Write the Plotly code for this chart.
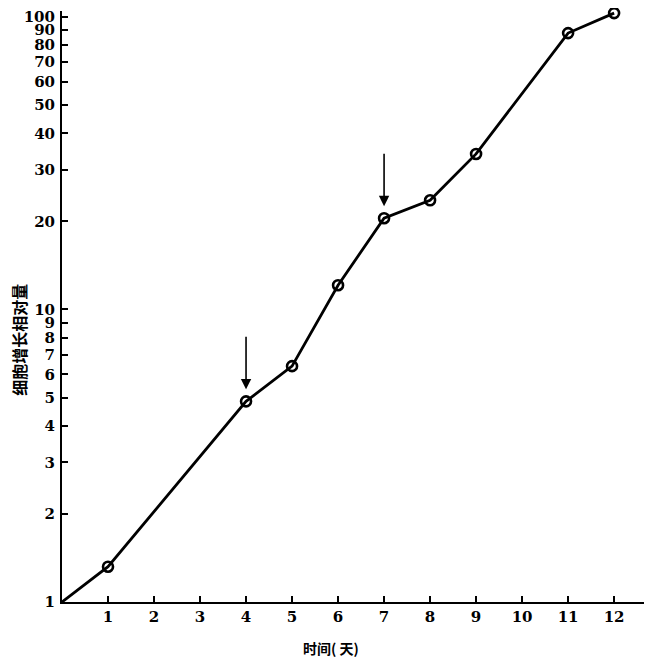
import numpy as np
import plotly.graph_objects as go

days = [0, 1, 4, 5, 6, 7, 8, 9, 11, 12]
growth = [1.0, 1.32, 4.85, 6.4, 12.1, 20.5, 23.6, 34, 88, 103]
arrow_days = [4, 7]

x_ticks = list(range(1, 13))
y_ticks = [1, 2, 3, 4, 5, 6, 7, 8, 9, 10, 20, 30, 40, 50, 60, 70, 80, 90, 100]

y_title = "细胞增长相对量"
x_title = "时间( 天)"

tick_font = dict(family="DejaVu Serif", size=15, color="black", weight="bold")

fig = go.Figure()
fig.add_trace(go.Scatter(
    x=days, y=growth, mode="lines",
    line=dict(color="black", width=2.8),
    showlegend=False, hoverinfo="skip", cliponaxis=False,
))
fig.add_trace(go.Scatter(
    x=days[1:], y=growth[1:], mode="markers",
    marker=dict(symbol="circle-open", size=10, color="black", line=dict(width=2.6)),
    showlegend=False, cliponaxis=False,
))

for d in arrow_days:
    v = growth[days.index(d)]
    fig.add_annotation(
        x=d, y=np.log10(v), xref="x", yref="y",
        ax=0, ay=-66, axref="pixel", ayref="pixel",
        showarrow=True, arrowhead=2, arrowsize=1.3, arrowwidth=1.6,
        arrowcolor="black", standoff=12, text="",
    )

fig.add_annotation(
    text=y_title, textangle=-90, xref="paper", yref="paper",
    x=-0.073, y=0.444, xanchor="center", yanchor="middle", showarrow=False,
    font=dict(family="Noto Sans CJK SC", size=16, color="black", weight="bold"),
)
fig.add_annotation(
    text=x_title, xref="paper", yref="paper",
    x=0.4575, y=-0.0774, xanchor="center", yanchor="middle", showarrow=False,
    font=dict(family="Noto Sans CJK SC", size=14, color="black", weight="bold"),
)

fig.update_xaxes(
    range=[0, 12.78], tickvals=x_ticks, ticktext=[str(t) for t in x_ticks],
    showline=True, linecolor="black", linewidth=2,
    ticks="inside", ticklen=6, tickwidth=1.5, tickcolor="black",
    showgrid=False, zeroline=False, tickfont=tick_font, automargin=False,
    ticklabeloverflow="allow",
)
fig.update_yaxes(
    type="log", range=[0, 2.02], tickvals=y_ticks, ticktext=[str(t) for t in y_ticks],
    showline=True, linecolor="black", linewidth=2,
    ticks="inside", ticklen=6, tickwidth=1.5, tickcolor="black",
    showgrid=False, zeroline=False, tickfont=tick_font, automargin=False,
    ticklabeloverflow="allow", ticklabelstandoff=2,
)

fig.update_layout(
    width=652, height=660,
    margin=dict(l=54, r=10, t=3, b=66, pad=0),
    paper_bgcolor="white", plot_bgcolor="white",
)

fig.write_html("out.html")
